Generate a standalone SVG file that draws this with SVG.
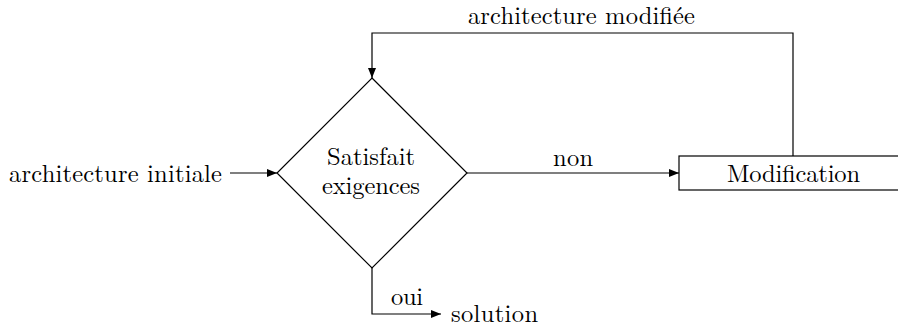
<svg xmlns="http://www.w3.org/2000/svg" width="898" height="328" viewBox="0 0 898 328">
  <style>
    .shape { fill: #ffffff; stroke: #000000; stroke-width: 1.2; }
    .wire { fill: none; stroke: #000000; stroke-width: 1.2; }
  </style>
  <defs>
    <marker id="arrow" viewBox="0 0 10 8" refX="10" refY="4" markerWidth="10" markerHeight="8" markerUnits="userSpaceOnUse" orient="auto">
      <path d="M0,0 L10,4 L0,8 Z" fill="#000000"/>
    </marker>
  </defs>

  <!-- decision node -->
  <g id="decision">
    <polygon class="shape" points="372,78 467,173 372,268 277,173"/>
    <text x="327" y="165" textLength="88" font-family="Latin Modern Roman, Liberation Serif, serif" font-size="24.5">Satisfait</text>
    <text x="322" y="194" textLength="98" font-family="Latin Modern Roman, Liberation Serif, serif" font-size="24.5">exigences</text>
  </g>

  <!-- modification step (runs off the right edge) -->
  <g id="modification">
    <rect class="shape" x="679" y="156" width="240" height="34"/>
    <text x="727" y="182" textLength="133" font-family="Latin Modern Roman, Liberation Serif, serif" font-size="24.5">Modification</text>
  </g>

  <!-- free-standing labels -->
  <g id="input">
    <text x="9" y="182" textLength="213" font-family="Latin Modern Roman, Liberation Serif, serif" font-size="24.5">architecture initiale</text>
  </g>
  <g id="output">
    <text x="451" y="322" textLength="87" font-family="Latin Modern Roman, Liberation Serif, serif" font-size="24.5">solution</text>
  </g>

  <!-- connectors -->
  <g id="connectors">
    <line class="wire" x1="230" y1="173" x2="277" y2="173" marker-end="url(#arrow)"/>
    <line class="wire" x1="467" y1="173" x2="679" y2="173" marker-end="url(#arrow)"/>
    <polyline class="wire" points="793,156 793,33 372,33 372,78" marker-end="url(#arrow)"/>
    <polyline class="wire" points="372,268 372,314 441,314" marker-end="url(#arrow)"/>
    <text x="553" y="166" textLength="40" font-family="Latin Modern Roman, Liberation Serif, serif" font-size="24.5">non</text>
    <text x="468" y="24" textLength="227" font-family="Latin Modern Roman, Liberation Serif, serif" font-size="24.5">architecture modifiée</text>
    <text x="391" y="305" textLength="32" font-family="Latin Modern Roman, Liberation Serif, serif" font-size="24.5">oui</text>
  </g>
</svg>
